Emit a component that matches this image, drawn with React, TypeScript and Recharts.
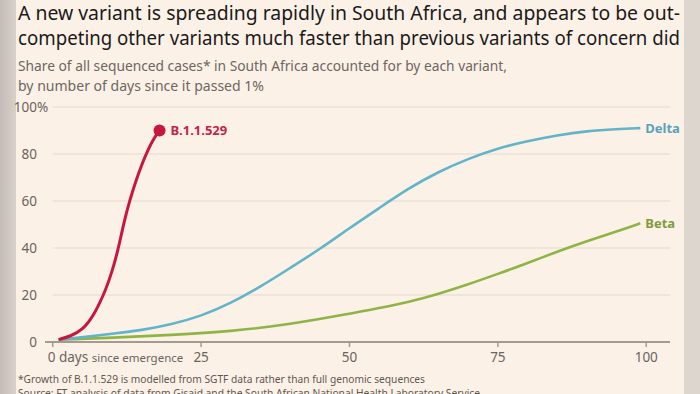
import React from 'react';
import { LineChart, Line, XAxis, YAxis, ReferenceLine } from 'recharts';

// ---- data ----
const omicronDays = [1, 3, 5, 7, 9, 10, 11, 12, 13, 14, 15, 16, 17, 18];
const omicronShare = [1, 2.5, 5, 11.5, 22.5, 30, 39, 51, 60.5, 68.5, 75.5, 81.5, 86.5, 90];
const deltaDays = [1, 5, 10, 15, 20, 25, 30, 35, 40, 45, 50, 55, 60, 65, 70, 75, 80, 85, 90, 95, 99];
const deltaShare = [1, 2, 3.5, 5, 7.5, 11, 16.5, 23.5, 31.5, 39.5, 48.5, 57, 65.5, 72.5, 78, 82.5, 85.5, 88, 89.8, 90.6, 91];
const betaDays = [1, 10, 20, 30, 40, 50, 55, 60, 65, 70, 75, 80, 85, 90, 95, 99];
const betaShare = [1, 1.8, 3, 4.5, 7.5, 12, 14.5, 17, 20.5, 24.5, 29, 33.5, 38.5, 43, 47, 50.5];
const xTicks = [0, 25, 50, 75, 100];
const yTicks = [0, 20, 40, 60, 80, 100];
const gridValues = [20, 40, 60, 80, 100];

const titleLines = [
  'A new variant is spreading rapidly in South Africa, and appears to be out-',
  'competing other variants much faster than previous variants of concern did',
];
const subtitleLines = [
  'Share of all sequenced cases* in South Africa accounted for by each variant,',
  'by number of days since it passed 1%',
];
const footnote = '*Growth of B.1.1.529 is modelled from SGTF data rather than full genomic sequences';
const source = 'Source: FT analysis of data from Gisaid and the South African National Health Laboratory Service';

const toSeries = (days: number[], vals: number[]) => days.map((d, i) => ({ day: d, share: vals[i] }));
const omicron = toSeries(omicronDays, omicronShare);
const delta = toSeries(deltaDays, deltaShare);
const beta = toSeries(betaDays, betaShare);

const RED = '#c7173f';
const BLUE = '#62b4c9';
const GREEN = '#8fb446';
const FONT = "'Noto Sans', 'Open Sans', sans-serif";
const TICK = '#6a645e';

const endLabel = (text: string, color: string, last: number, dx: number) => (p: any) => {
  if (p.index !== last) return <g key={`l-${text}-${p.index}`} />;
  return (
    <text key={`l-${text}`} x={p.x + dx} y={p.y + 4.5} fill={color} fontSize={13} fontWeight={700}
      fontFamily={FONT}>{text}</text>
  );
};

const redDot = (p: any) => {
  if (p.index !== omicron.length - 1) return <g key={`d-${p.index}`} />;
  return <circle key="d-end" cx={p.cx} cy={p.cy} r={6} fill={RED} />;
};

const YTick = (p: any) => {
  const { x, y, payload } = p;
  return (
    <g>
      <text x={x - 1} y={y + 5} fill={TICK} fontSize={13.5} fontFamily={FONT} textAnchor="end">
        {payload.value}
      </text>
      {payload.value === 100 ? (
        <text x={x - 1} y={y + 5} fill={TICK} fontSize={13.5} fontFamily={FONT} textAnchor="start">%</text>
      ) : null}
    </g>
  );
};

const XTick = (p: any) => {
  const { x, y, payload } = p;
  if (payload.value === 0) {
    return (
      <text x={x - 5} y={y + 13} fill={TICK} fontFamily={FONT} textAnchor="start">
        <tspan fontSize={13.5}>0 days </tspan>
        <tspan fontSize={11.5}>since emergence</tspan>
      </text>
    );
  }
  return (
    <text x={x} y={y + 13} fill={TICK} fontSize={13.5} fontFamily={FONT} textAnchor="middle">
      {payload.value}
    </text>
  );
};

export default function App() {
  return (
    <div style={{ position: 'fixed', left: 0, top: 0, width: 700, height: 394, overflow: 'hidden' }}>
      <svg width={700} height={394} style={{ position: 'absolute', left: 0, top: 0 }}>
        <defs>
          <linearGradient id="lg" x1="0" x2="1" y1="0" y2="0">
            <stop offset="0" stopColor="#c4bdb7" />
            <stop offset="1" stopColor="#d8d1ca" />
          </linearGradient>
        </defs>
        <rect x={0} y={0} width={700} height={394} fill="#ddd6cf" />
        <rect x={0} y={0} width={16} height={394} fill="url(#lg)" />
        <rect x={16} y={0} width={668} height={394} fill="#fcf1e7" />
      </svg>
      <div style={{ position: 'absolute', left: 0, top: 0 }}>
        <LineChart width={700} height={394} data={delta}
          margin={{ top: 107, right: 30, bottom: 0, left: 0 }}>
          <XAxis dataKey="day" type="number" domain={[-1.3, 104]} ticks={xTicks}
            allowDataOverflow height={52} axisLine={{ stroke: '#a39a92', strokeWidth: 2 }}
            tickLine={{ stroke: '#a39a92', strokeWidth: 1.5 }} tickSize={5} tick={<XTick />} />
          <YAxis type="number" domain={[0, 100]} ticks={yTicks} width={45}
            axisLine={false} tickLine={false} tick={<YTick />} tickMargin={1} />
          {gridValues.map((v) => (
            <ReferenceLine key={v} segment={[{ x: 0, y: v }, { x: 104, y: v }]}
              stroke="#ece1d6" strokeWidth={1.5} />
          ))}
          <Line data={beta} dataKey="share" type="basis" stroke={GREEN} strokeWidth={2.6}
            dot={false} isAnimationActive={false}
            label={endLabel('Beta', '#7f9b3b', beta.length - 1, 5)} />
          <Line data={delta} dataKey="share" type="basis" stroke={BLUE} strokeWidth={2.6}
            dot={false} isAnimationActive={false}
            label={endLabel('Delta', '#58a3ba', delta.length - 1, 5)} />
          <Line data={omicron} dataKey="share" type="basis" stroke={RED} strokeWidth={3}
            dot={redDot} isAnimationActive={false}
            label={endLabel('B.1.1.529', '#c3244b', omicron.length - 1, 11)} />
        </LineChart>
      </div>
      <svg width={700} height={394} style={{ position: 'absolute', left: 0, top: 0, pointerEvents: 'none' }}>
        <text x={18} y={20} fontSize={19} fill="#1b1a19" fontFamily={FONT}
          textLength={662} lengthAdjust="spacingAndGlyphs">{titleLines[0]}</text>
        <text x={18} y={45} fontSize={19} fill="#1b1a19" fontFamily={FONT}
          textLength={662} lengthAdjust="spacingAndGlyphs">{titleLines[1]}</text>
        <text x={18} y={71} fontSize={14} fill="#6d6761" fontFamily={FONT}
          textLength={489} lengthAdjust="spacingAndGlyphs">{subtitleLines[0]}</text>
        <text x={18} y={91} fontSize={14} fill="#6d6761" fontFamily={FONT}
          textLength={246} lengthAdjust="spacingAndGlyphs">{subtitleLines[1]}</text>
        <text x={18} y={383} fontSize={11.5} fill="#5e5853" fontFamily={FONT}
          textLength={407} lengthAdjust="spacingAndGlyphs">{footnote}</text>
        <text x={18} y={397} fontSize={11.5} fill="#5e5853" fontFamily={FONT}
          textLength={462} lengthAdjust="spacingAndGlyphs">{source}</text>
      </svg>
    </div>
  );
}
